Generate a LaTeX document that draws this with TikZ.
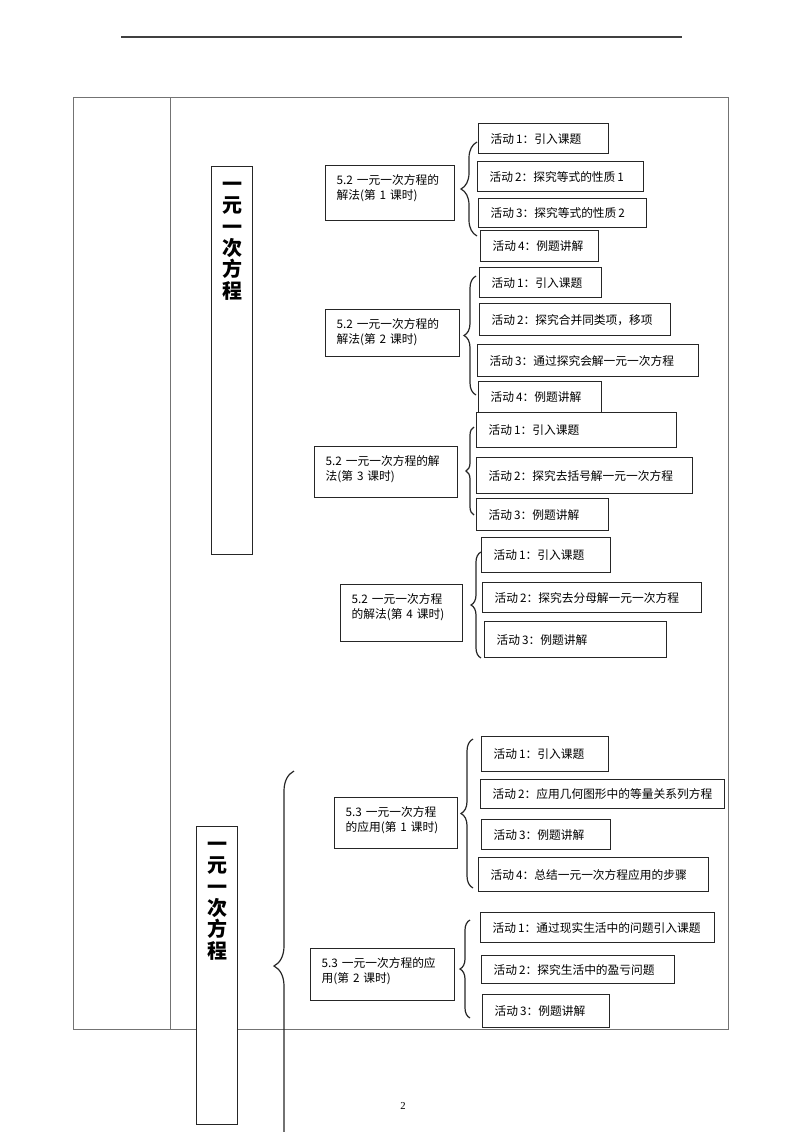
\documentclass[tikz,border=0pt]{standalone}
\usepackage{fontspec}
\setmainfont{Liberation Serif}
\newfontfamily\cjk{Noto Sans CJK SC}
\usetikzlibrary{decorations.pathreplacing}
\newdimen\px
\px=0.75pt

\begin{document}
\begin{tikzpicture}[x=0.75pt, y=-0.75pt,
    tbl/.style={draw=black!55, line width=0.7pt},
    act/.style 2 args={draw=black!85, line width=1pt, anchor=north west,
      inner xsep=12\px, inner ysep=0pt, text width=(#1-24)*0.75pt,
      minimum height=#2\px, align=left, font=\cjk\fontsize{8.8}{10}\selectfont},
    sess/.style 2 args={draw=black!85, line width=1pt, anchor=north west,
      inner xsep=11\px, inner ysep=0pt, text width=(#1-22)*0.75pt,
      text height=14pt, text depth=#2*0.75pt-14pt, align=left,
      font=\cjk\fontsize{8.8}{11.25}\selectfont},
    ttl/.style 2 args={draw=black!85, fill=white, line width=1pt, anchor=north west,
      inner sep=0pt, text width=#1\px, text height=18.5pt, text depth=#2*0.75pt-18.5pt,
      align=center, font=\cjk\bfseries\fontsize{15}{16}\selectfont},
    brc/.style={draw=black!85, line width=0.9pt, decorate,
      decoration={brace, amplitude=#1\px}}]
    \useasboundingbox (0,0) rectangle (800,1132);
    \clip (0,0) rectangle (800,1132);

    % page frame
    \draw[line width=1.1pt, black!75] (121,37) -- (682,37);
    \draw[tbl] (73,97) rectangle (728,1029);
    \draw[tbl] (170,97) -- (170,1029);

    \node[ttl={41}{388}] (t1) at (211,166) {一\\元\\一\\次\\方\\程};
    \node[ttl={41}{298}] (t2) at (196,826) {一\\元\\一\\次\\方\\程};

    % 5.2 first lesson
    \node[sess={129}{55}] (s1) at (325,165) {5.2~一元一次方程的\\解法(第~1~课时)};
    \node[act={130}{30}] (a11) at (478,123) {活动\,1：引入课题};
    \node[act={166}{30}] (a12) at (477,161) {活动\,2：探究等式的性质\,1};
    \node[act={168}{29}] (a13) at (478,198) {活动\,3：探究等式的性质\,2};
    \node[act={118}{31}] (a14) at (480,230) {活动\,4：例题讲解};

    % 5.2 second lesson
    \node[sess={134}{47}] (s2) at (325,309) {5.2~一元一次方程的\\解法(第~2~课时)};
    \node[act={122}{30}] (a21) at (479,267) {活动\,1：引入课题};
    \node[act={191}{32}] (a22) at (479,303) {活动\,2：探究合并同类项，移项};
    \node[act={221}{32}] (a23) at (477,344) {活动\,3：通过探究会解一元一次方程};
    \node[act={123}{31}] (a24) at (478,381) {活动\,4：例题讲解};

    % 5.2 third lesson
    \node[sess={143}{51}] (s3) at (314,446) {5.2~一元一次方程的解\\法(第~3~课时)};
    \node[act={200}{35}] (a31) at (476,412) {活动\,1：引入课题};
    \node[act={216}{36}] (a32) at (476,457) {活动\,2：探究去括号解一元一次方程};
    \node[act={132}{32}] (a33) at (476,498) {活动\,3：例题讲解};

    % 5.2 fourth lesson
    \node[sess={122}{57}] (s4) at (340,584) {5.2~一元一次方程\\的解法(第~4~课时)};
    \node[act={129}{35}] (a41) at (481,537) {活动\,1：引入课题};
    \node[act={219}{30}] (a42) at (482,582) {活动\,2：探究去分母解一元一次方程};
    \node[act={182}{36}] (a43) at (484,621) {活动\,3：例题讲解};

    % 5.3 first lesson
    \node[sess={123}{51}] (s5) at (334,797) {5.3~一元一次方程\\的应用(第~1~课时)};
    \node[act={127}{35}] (a51) at (481,736) {活动\,1：引入课题};
    \node[act={244}{29}] (a52) at (480,779) {活动\,2：应用几何图形中的等量关系列方程};
    \node[act={129}{30}] (a53) at (481,819) {活动\,3：例题讲解};
    \node[act={230}{34}] (a54) at (478,857) {活动\,4：总结一元一次方程应用的步骤};

    % 5.3 second lesson
    \node[sess={144}{52}] (s6) at (310,948) {5.3~一元一次方程的应\\用(第~2~课时)};
    \node[act={234}{30}] (a61) at (480,912) {活动\,1：通过现实生活中的问题引入课题};
    \node[act={193}{28}] (a62) at (481,955) {活动\,2：探究生活中的盈亏问题};
    \node[act={127}{33}] (a63) at (482,994) {活动\,3：例题讲解};

    % braces
    \coordinate (b1t) at (477,142); \coordinate (b1b) at (477,236);
    \coordinate (b2t) at (476,276); \coordinate (b2b) at (476,395);
    \coordinate (b3t) at (474,427); \coordinate (b3b) at (474,515);
    \coordinate (b4t) at (481,552); \coordinate (b4b) at (481,658);
    \coordinate (b5t) at (473,739); \coordinate (b5b) at (473,888);
    \coordinate (b6t) at (470,920); \coordinate (b6b) at (470,1018);
    \coordinate (bgt) at (294,771); \coordinate (bgb) at (294,1161);
    \draw[brc=16] (b1b) -- (b1t);
    \draw[brc=12] (b2b) -- (b2t);
    \draw[brc=8] (b3b) -- (b3t);
    \draw[brc=10] (b4b) -- (b4t);
    \draw[brc=12] (b5b) -- (b5t);
    \draw[brc=10] (b6b) -- (b6t);
    \draw[brc=20] (bgb) -- (bgt);

    \node[font=\fontsize{8}{9}\selectfont] (pg) at (403,1106) {2};
\end{tikzpicture}
\end{document}
